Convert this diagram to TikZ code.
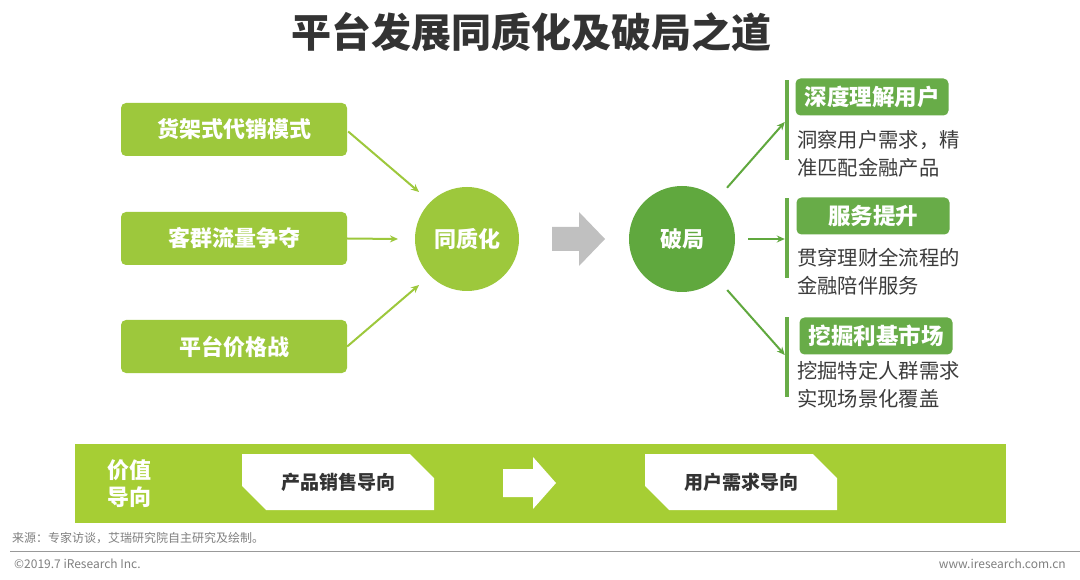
\documentclass[tikz,border=0pt]{standalone}
\usepackage{fontspec}
\setmainfont{Noto Sans CJK SC}
\usetikzlibrary{arrows.meta,shapes.misc}
\definecolor{lgreen}{RGB}{157,200,60}
\definecolor{bandgreen}{RGB}{166,206,52}
\definecolor{dgreen}{RGB}{96,168,62}
\definecolor{hgreen}{RGB}{104,172,72}
\definecolor{txtdark}{RGB}{51,51,51}
\definecolor{txtgray}{RGB}{60,60,60}
\definecolor{arrgray}{RGB}{192,192,192}
\tikzset{
  leftbox/.style={rounded corners=5pt, fill=lgreen, minimum width=226pt, minimum height=53pt, text=white, inner sep=0pt, font=\fontsize{22}{24}\selectfont\bfseries},
  hcircle/.style={circle, inner sep=0pt, minimum size=#1, text=white, font=\fontsize{22}{24}\selectfont\bfseries},
  hdr/.style={rounded corners=5pt, fill=hgreen, minimum width=153pt, minimum height=37pt, text=white, inner sep=0pt, font=\fontsize{22.5}{24}\selectfont\bfseries},
  bodytxt/.style={anchor=west, align=left, inner sep=0pt, text=txtgray, font=\fontsize{20.3}{28}\selectfont},
  bar/.style={fill=hgreen, minimum width=4pt, minimum height=80pt, inner sep=0pt},
  larrow/.style={draw=lgreen, line width=2pt, -{Stealth[length=8pt,width=7pt]}},
  darrow/.style={draw=dgreen, line width=2pt, -{Stealth[length=8pt,width=7pt]}},
  chbox/.style={chamfered rectangle, chamfered rectangle corners={north east,south west}, chamfered rectangle xsep=20pt, chamfered rectangle ysep=15pt, fill=white, minimum width=192pt, minimum height=56pt, inner sep=0pt, text=txtdark, font=\fontsize{19}{21}\selectfont\bfseries},
  smalltxt/.style={inner sep=0pt, text=gray, font=\fontsize{12}{14}\selectfont}
}
\begin{document}
\begin{tikzpicture}[x=1pt,y=-1pt]
\useasboundingbox (0,0) rectangle (1080,580);
\fill[white] (0,0) rectangle (1080,580);
% title
\node[text=txtdark, font=\fontsize{40}{42}\selectfont\bfseries] (title) at (531,32) {平台发展同质化及破局之道};
% left boxes
\node[leftbox] (b1) at (234,129.5) {货架式代销模式};
\node[leftbox] (b2) at (234,238.5) {客群流量争夺};
\node[leftbox] (b3) at (234,346.5) {平台价格战};
% circles
\node[hcircle=104pt, fill=lgreen] (c1) at (467,239) {同质化};
\node[hcircle=106pt, fill=dgreen] (c2) at (682,239) {破局};
% arrows into c1
\coordinate (a1) at (419,192);
\coordinate (a2) at (398,239);
\coordinate (a3) at (419,285);
\draw[larrow] (b1.east) ++(1,2) -- (a1);
\draw[larrow] (b2.east) -- (a2);
\draw[larrow] (b3.east) -- (a3);
% gray block arrow
\fill[arrgray] (552,227) -- (579,227) -- (579,212) -- (605,239) -- (579,266) -- (579,251) -- (552,251) -- cycle;
% right bars
\node[bar] (r1) at (787,120) {};
\node[bar] (r2) at (787,238) {};
\node[bar] (r3) at (787,357) {};
\draw[darrow, shorten <=15pt] (c2) -- (r1.west |- 0,122);
\draw[darrow, shorten <=13pt] (c2) -- (r2.west |- 0,239);
\draw[darrow, shorten <=15pt] (c2) -- (r3.west |- 0,355);
% headers
\node[hdr] (h1) at (872,97) {深度理解用户};
\node[hdr] (h2) at (873,216) {服务提升};
\node[hdr] (h3) at (876,336) {挖掘利基市场};
\node[bodytxt] (t1) at (797,154) {洞察用户需求，精\\准匹配金融产品};
\node[bodytxt] (t2) at (797,272) {贯穿理财全流程的\\金融陪伴服务};
\node[bodytxt] (t3) at (797,385) {挖掘特定人群需求\\实现场景化覆盖};
% bottom band
\fill[bandgreen] (75,444) rectangle (1006,523);
\node[anchor=west, align=left, inner sep=0pt, text=white, font=\fontsize{22}{27}\selectfont\bfseries] (vlabel) at (107,484) {价值\\导向};
\node[chbox] (o1) at (338,482) {产品销售导向};
\node[chbox] (o2) at (741,482) {用户需求导向};
\fill[white] (503,469) -- (533,469) -- (533,457) -- (556,483) -- (533,509) -- (533,497) -- (503,497) -- cycle;
% footer
\node[smalltxt, anchor=west] (src) at (12,538) {来源：专家访谈，艾瑞研究院自主研究及绘制。};
\draw[gray!80, line width=1pt] (10,551) -- (1080,551);
\node[smalltxt, anchor=west] (copy) at (14,564) {©2019.7 iResearch Inc.};
\node[smalltxt, anchor=east] (www) at (1066,564) {www.iresearch.com.cn};
\end{tikzpicture}
\end{document}
